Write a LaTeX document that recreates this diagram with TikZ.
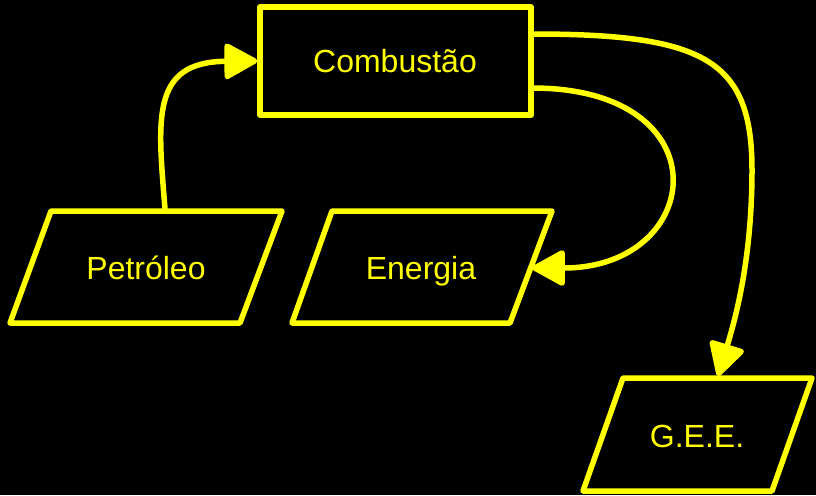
\documentclass[tikz,border=0pt]{standalone}
\usepackage{fontspec}
\setmainfont{Liberation Sans}
\usetikzlibrary{arrows.meta}
\definecolor{yel}{RGB}{255,255,0}
\begin{document}
\begin{tikzpicture}[x=1pt,y=-1pt,
  shapeline/.style={draw=yel,line width=5.5pt,line join=round},
  lbl/.style={text=yel,font=\fontsize{32}{38}\selectfont,inner sep=0pt,anchor=base},
  box/.style={shapeline,rectangle,minimum width=271pt,minimum height=108pt,inner sep=0pt},
  conn/.style={draw=yel,line width=5.5pt,-{Triangle[length=36pt,width=38pt,round]}}]
\useasboundingbox (0,0) rectangle (816,495);
\fill[black] (0,0) rectangle (816,495);
% process box
\node[box] (comb) at (395.5,61) {};
\node[lbl] (combl) at (395,73) {Combustão};
% parallelograms
\draw[shapeline] (51,211) -- (282,211) -- (240,323) -- (10,323) -- cycle;
\draw[shapeline] (332,211) -- (552,211) -- (510,323) -- (292,323) -- cycle;
\draw[shapeline] (623,378) -- (812,378) -- (772,491) -- (583,491) -- cycle;
\node[lbl] (pet) at (146,279) {Petróleo};
\node[lbl] (ene) at (421,279) {Energia};
\node[lbl] (gee) at (697,447) {G.E.E.};
% connector end points
\coordinate (petN) at (165,209);
\coordinate (eneE) at (532,268);
\coordinate (geeN) at (718,376);
\coordinate (combE1) at (532,34);
\coordinate (combE2) at (532,88);
% connectors
\draw[conn] (petN) .. controls (158,120) and (150,62) .. (comb.west);
\draw[conn] (combE2) .. controls (725,88) and (705,268) .. (eneE);
\draw[conn] (combE1) .. controls (705,34) and (752,60) .. (752,170) .. controls (752,260) and (735,320) .. (geeN);
\end{tikzpicture}
\end{document}
